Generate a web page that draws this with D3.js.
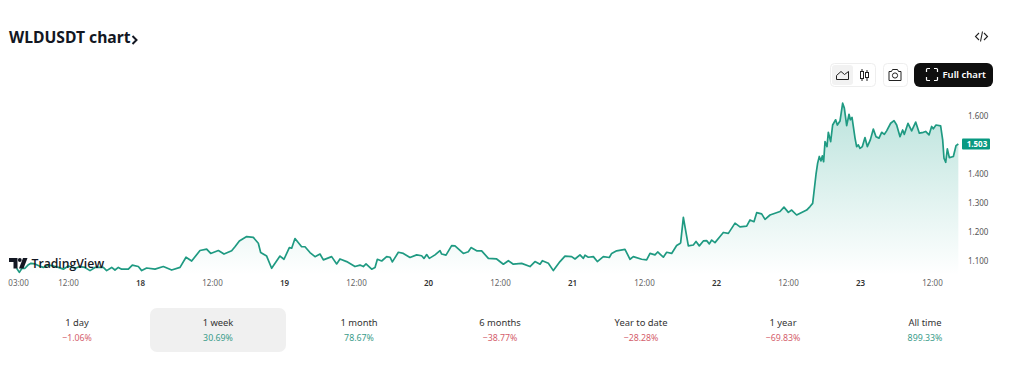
<!DOCTYPE html>
<html>
<head>
<meta charset="utf-8">
<script src="https://cdn.jsdelivr.net/npm/d3@7"></script>
<style>
	html, body { margin: 0; padding: 0; background: #fff; overflow: hidden; }
	text { font-family: "Noto Sans", sans-serif; }
	.domain { display: none; }
	.tick line { display: none; }
</style>
</head>
<body>
<svg id="chart" width="1024" height="366"></svg>
<script>
// hours since 00:00 on the 17th
const hours = [3.44,3.89,4.33,4.83,5.33,5.83,6.5,7.22,7.89,8.72,9.56,10.39,11.22,12.06,13.17,14,14.83,15.67,16.5,17.89,18.44,19.28,19.83,20.39,20.94,22.06,22.72,23.72,24.28,25.11,26.5,27.89,29.28,30.67,31.67,32.61,34,35.11,35.78,37.06,38,39.28,39.83,40.56,41.78,42.89,43.72,44.11,45.11,45.94,47.33,48,48.89,49.28,49.83,50.94,51.5,52.33,53.17,54,54.56,55.94,56.78,57.33,58.44,59.83,60.67,61.22,61.67,62.61,63.17,63.56,64.28,65.11,65.67,66.06,67.06,67.89,69,70.11,70.94,71.33,71.78,72.22,73.17,74,74.28,75,75.94,76.5,77.89,78.72,79.17,80.11,80.94,82.06,83.44,84.56,85.39,86.22,87.61,89,89.83,90.67,91.06,92.06,92.89,94,94.83,95.94,96.5,97.33,97.89,98.17,98.72,99.56,100.22,101.22,102.22,102.61,103.44,104.83,105.67,106.22,107.61,108.44,109,109.83,110.28,111.22,111.78,112.61,113.44,114,114.11,114.56,115.39,116.22,116.67,117.22,117.89,118.44,118.89,119.28,119.83,120.67,121.22,122.06,123.17,124,125.11,125.67,126.33,126.78,127.61,128.17,129,130.67,131.33,132.06,132.61,133.44,135.11,135.67,136.11,136.67,136.94,137.22,137.5,137.72,137.94,138.17,138.5,138.72,139.11,139.44,139.94,140.22,140.67,141.11,141.39,141.78,142.17,142.39,142.67,143.17,143.44,143.72,144,144.39,144.83,145.22,145.72,146.22,146.67,147.17,147.61,148.06,148.44,149.11,149.67,150.11,150.67,151.11,151.39,152,152.61,153.28,153.89,154.56,154.94,155.5,155.94,156.22,156.67,157.44,157.78,158,158.28,158.56,158.89,159.56,160,160.39];
const prices = [1.076,1.062,1.076,1.076,1.087,1.093,1.091,1.084,1.079,1.087,1.084,1.079,1.073,1.084,1.076,1.082,1.079,1.068,1.079,1.079,1.068,1.079,1.07,1.079,1.073,1.073,1.087,1.082,1.068,1.077,1.073,1.082,1.07,1.079,1.114,1.101,1.137,1.142,1.127,1.137,1.125,1.136,1.15,1.17,1.185,1.182,1.162,1.13,1.118,1.076,1.118,1.107,1.147,1.145,1.178,1.15,1.15,1.13,1.116,1.125,1.105,1.116,1.091,1.108,1.099,1.082,1.087,1.082,1.091,1.073,1.079,1.107,1.101,1.116,1.114,1.098,1.131,1.127,1.113,1.122,1.119,1.11,1.123,1.11,1.122,1.137,1.125,1.121,1.154,1.153,1.127,1.133,1.147,1.136,1.136,1.11,1.108,1.09,1.102,1.09,1.093,1.082,1.099,1.09,1.102,1.093,1.068,1.099,1.118,1.116,1.108,1.122,1.11,1.121,1.114,1.116,1.099,1.116,1.113,1.127,1.136,1.141,1.107,1.116,1.107,1.105,1.127,1.122,1.132,1.114,1.131,1.127,1.154,1.161,1.164,1.251,1.153,1.156,1.168,1.153,1.17,1.171,1.16,1.173,1.164,1.185,1.199,1.196,1.231,1.218,1.221,1.242,1.236,1.267,1.263,1.244,1.259,1.271,1.286,1.268,1.276,1.259,1.276,1.288,1.299,1.399,1.437,1.46,1.445,1.462,1.442,1.511,1.494,1.543,1.511,1.568,1.586,1.568,1.582,1.643,1.626,1.566,1.605,1.586,1.594,1.523,1.494,1.5,1.488,1.494,1.525,1.494,1.517,1.554,1.528,1.523,1.543,1.536,1.548,1.574,1.583,1.568,1.528,1.551,1.536,1.574,1.548,1.578,1.54,1.543,1.546,1.534,1.563,1.555,1.568,1.565,1.517,1.454,1.44,1.486,1.456,1.46,1.497,1.503];

const priceTicks = [1.1, 1.2, 1.3, 1.4, 1.6];
const lastPrice = 1.503;
const timeTicks = [3.67, 12, 24, 36, 48, 60, 72, 84, 96, 108, 120, 132, 144, 156];
const timeLabels = ["03:00", "12:00", "18", "12:00", "19", "12:00", "20", "12:00", "21", "12:00", "22", "12:00", "23", "12:00"];

const statLabels = ["1 day", "1 week", "1 month", "6 months", "Year to date", "1 year", "All time"];
const statValues = ["\u22121.06%", "30.69%", "78.67%", "\u221238.77%", "\u221228.28%", "\u221269.83%", "899.33%"];
const statCenters = [77, 218, 359, 500, 641, 783, 925];
const selectedStat = 1;

const svg = d3.select("#chart");
const green = "#1f9a82";

const x = d3.scaleLinear().domain([24, 156]).range([140, 932]);
const y = d3.scaleLinear().domain([1.1, 1.6]).range([261.3, 115.7]);
const points = hours.map((h, i) => [h, prices[i]]);

// gradient under the line
const defs = svg.append("defs");
const gradient = defs.append("linearGradient")
	.attr("id", "area-fill")
	.attr("gradientUnits", "userSpaceOnUse")
	.attr("x1", 0).attr("y1", 100)
	.attr("x2", 0).attr("y2", 275);
gradient.append("stop").attr("offset", "0%").attr("stop-color", "#089981").attr("stop-opacity", 0.28);
gradient.append("stop").attr("offset", "100%").attr("stop-color", "#089981").attr("stop-opacity", 0);

const area = d3.area().x(d => x(d[0])).y0(275).y1(d => y(d[1]));
const line = d3.line().x(d => x(d[0])).y(d => y(d[1]));

svg.append("path").datum(points).attr("d", area).attr("fill", "url(#area-fill)");
svg.append("path").datum(points).attr("d", line)
	.attr("fill", "none")
	.attr("stroke", green)
	.attr("stroke-width", 1.7)
	.attr("stroke-linejoin", "round");

// time axis
const timeAxis = d3.axisBottom(x)
	.tickValues(timeTicks)
	.tickSize(0)
	.tickPadding(0)
	.tickFormat((d, i) => timeLabels[i]);
const timeG = svg.append("g").attr("transform", "translate(0,280)").call(timeAxis);
timeG.selectAll("text")
	.attr("font-size", 8)
	.attr("font-weight", (d, i) => timeLabels[i].length == 2 ? 600 : 400)
	.attr("fill", (d, i) => timeLabels[i].length == 2 ? "#333" : "#666")
	.style("font-family", "'Noto Sans', sans-serif");

// price axis
const priceAxis = d3.axisRight(y)
	.tickValues(priceTicks)
	.tickSize(0)
	.tickPadding(0)
	.tickFormat(d3.format(".3f"));
const priceG = svg.append("g").attr("transform", "translate(968,0)").call(priceAxis);
priceG.selectAll("text")
	.attr("font-size", 8)
	.attr("fill", "#555")
	.style("font-family", "'Noto Sans', sans-serif");

// last price marker
svg.append("rect")
	.attr("x", 962).attr("y", y(lastPrice) - 5.5)
	.attr("width", 28).attr("height", 11)
	.attr("rx", 1)
	.attr("fill", "#089981");
svg.append("text")
	.attr("x", 977).attr("y", y(lastPrice) + 3)
	.attr("text-anchor", "middle")
	.attr("font-size", 8)
	.attr("font-weight", 700)
	.attr("fill", "#fff")
	.text(d3.format(".3f")(lastPrice));

// title
svg.append("text")
	.attr("x", 9).attr("y", 43)
	.attr("font-size", 15.7)
	.attr("font-weight", 700)
	.attr("fill", "#131722")
	.text("WLDUSDT chart");
svg.append("path")
	.attr("d", "M132.5 36 L136.5 40 L132.5 44")
	.attr("fill", "none")
	.attr("stroke", "#131722")
	.attr("stroke-width", 2);

// embed icon
svg.append("path")
	.attr("d", "M979 33 L975.5 36.5 L979 40 M984 33 L987.5 36.5 L984 40 M982.5 31.5 L980.5 41.5")
	.attr("fill", "none")
	.attr("stroke", "#222")
	.attr("stroke-width", 1.1);

// toolbar
svg.append("rect")
	.attr("x", 830.5).attr("y", 63.5).attr("width", 45).attr("height", 23).attr("rx", 4)
	.attr("fill", "#fff").attr("stroke", "#eee");
svg.append("rect")
	.attr("x", 832).attr("y", 65).attr("width", 21).attr("height", 20).attr("rx", 3)
	.attr("fill", "#f2f2f2");
svg.append("path")
	.attr("d", "M836.5 79.5 V75.5 L841 71.5 L844.5 74.5 L848.5 71.5 V79.5 Z")
	.attr("fill", "none").attr("stroke", "#222").attr("stroke-width", 1);
svg.append("path")
	.attr("d", "M862 69 V81 M867 70 V81")
	.attr("fill", "none").attr("stroke", "#222").attr("stroke-width", 1);
svg.append("rect").attr("x", 860.5).attr("y", 71.5).attr("width", 3).attr("height", 7)
	.attr("fill", "#fff").attr("stroke", "#222");
svg.append("rect").attr("x", 865.5).attr("y", 72.5).attr("width", 3).attr("height", 5)
	.attr("fill", "#fff").attr("stroke", "#222");

svg.append("rect")
	.attr("x", 883.5).attr("y", 63.5).attr("width", 24).attr("height", 23).attr("rx", 4)
	.attr("fill", "#fff").attr("stroke", "#eee");
svg.append("path")
	.attr("d", "M889 71.5 H891.5 L892.5 69.5 H897.5 L898.5 71.5 H901 V80.5 H889 Z")
	.attr("fill", "none").attr("stroke", "#222").attr("stroke-width", 1);
svg.append("circle").attr("cx", 895).attr("cy", 75.5).attr("r", 2.6)
	.attr("fill", "none").attr("stroke", "#222");

svg.append("rect")
	.attr("x", 914).attr("y", 63).attr("width", 79).attr("height", 24).attr("rx", 6)
	.attr("fill", "#0f0f0f");
svg.append("path")
	.attr("d", "M926.5 72 V69.5 Q926.5 68.5 927.5 68.5 H930 M934 68.5 H936.5 Q937.5 68.5 937.5 69.5 V72 M937.5 77 V79.5 Q937.5 80.5 936.5 80.5 H934 M930 80.5 H927.5 Q926.5 80.5 926.5 79.5 V77")
	.attr("fill", "none").attr("stroke", "#fff").attr("stroke-width", 1.2);
svg.append("text")
	.attr("x", 942.5).attr("y", 78)
	.attr("font-size", 9.5)
	.attr("font-weight", 600)
	.attr("fill", "#fff")
	.text("Full chart");

// tradingview logo
const logo = svg.append("g").attr("fill", "#131722");
logo.append("path").attr("d", "M9 258 H17.5 V268.5 H13.5 V262 H9 Z");
logo.append("circle").attr("cx", 19.8).attr("cy", 260).attr("r", 1.9);
logo.append("path").attr("d", "M19 268.5 L23 258 H27.5 L23.5 268.5 Z");
svg.append("text")
	.attr("x", 31.5).attr("y", 267.5)
	.attr("font-size", 12.2)
	.attr("font-weight", 600)
	.attr("fill", "#131722")
	.style("font-family", "'Open Sans', sans-serif")
	.text("TradingView");

// period stats row
svg.append("rect")
	.attr("x", statCenters[selectedStat] - 68).attr("y", 308)
	.attr("width", 136).attr("height", 44)
	.attr("rx", 7)
	.attr("fill", "#f0f0f0");

const stats = svg.append("g").selectAll("g")
	.data(statLabels)
	.enter()
	.append("g")
	.attr("transform", (d, i) => "translate(" + statCenters[i] + ",0)")
	.attr("text-anchor", "middle");
stats.append("text")
	.attr("y", 326)
	.attr("font-size", 9.4)
	.attr("fill", "#333")
	.text(d => d);
stats.append("text")
	.attr("y", 340.5)
	.attr("font-size", 8.8)
	.attr("fill", (d, i) => statValues[i][0] == "\u2212" ? "#d4606c" : "#3a9c8a")
	.text((d, i) => statValues[i]);
</script>
</body>
</html>
